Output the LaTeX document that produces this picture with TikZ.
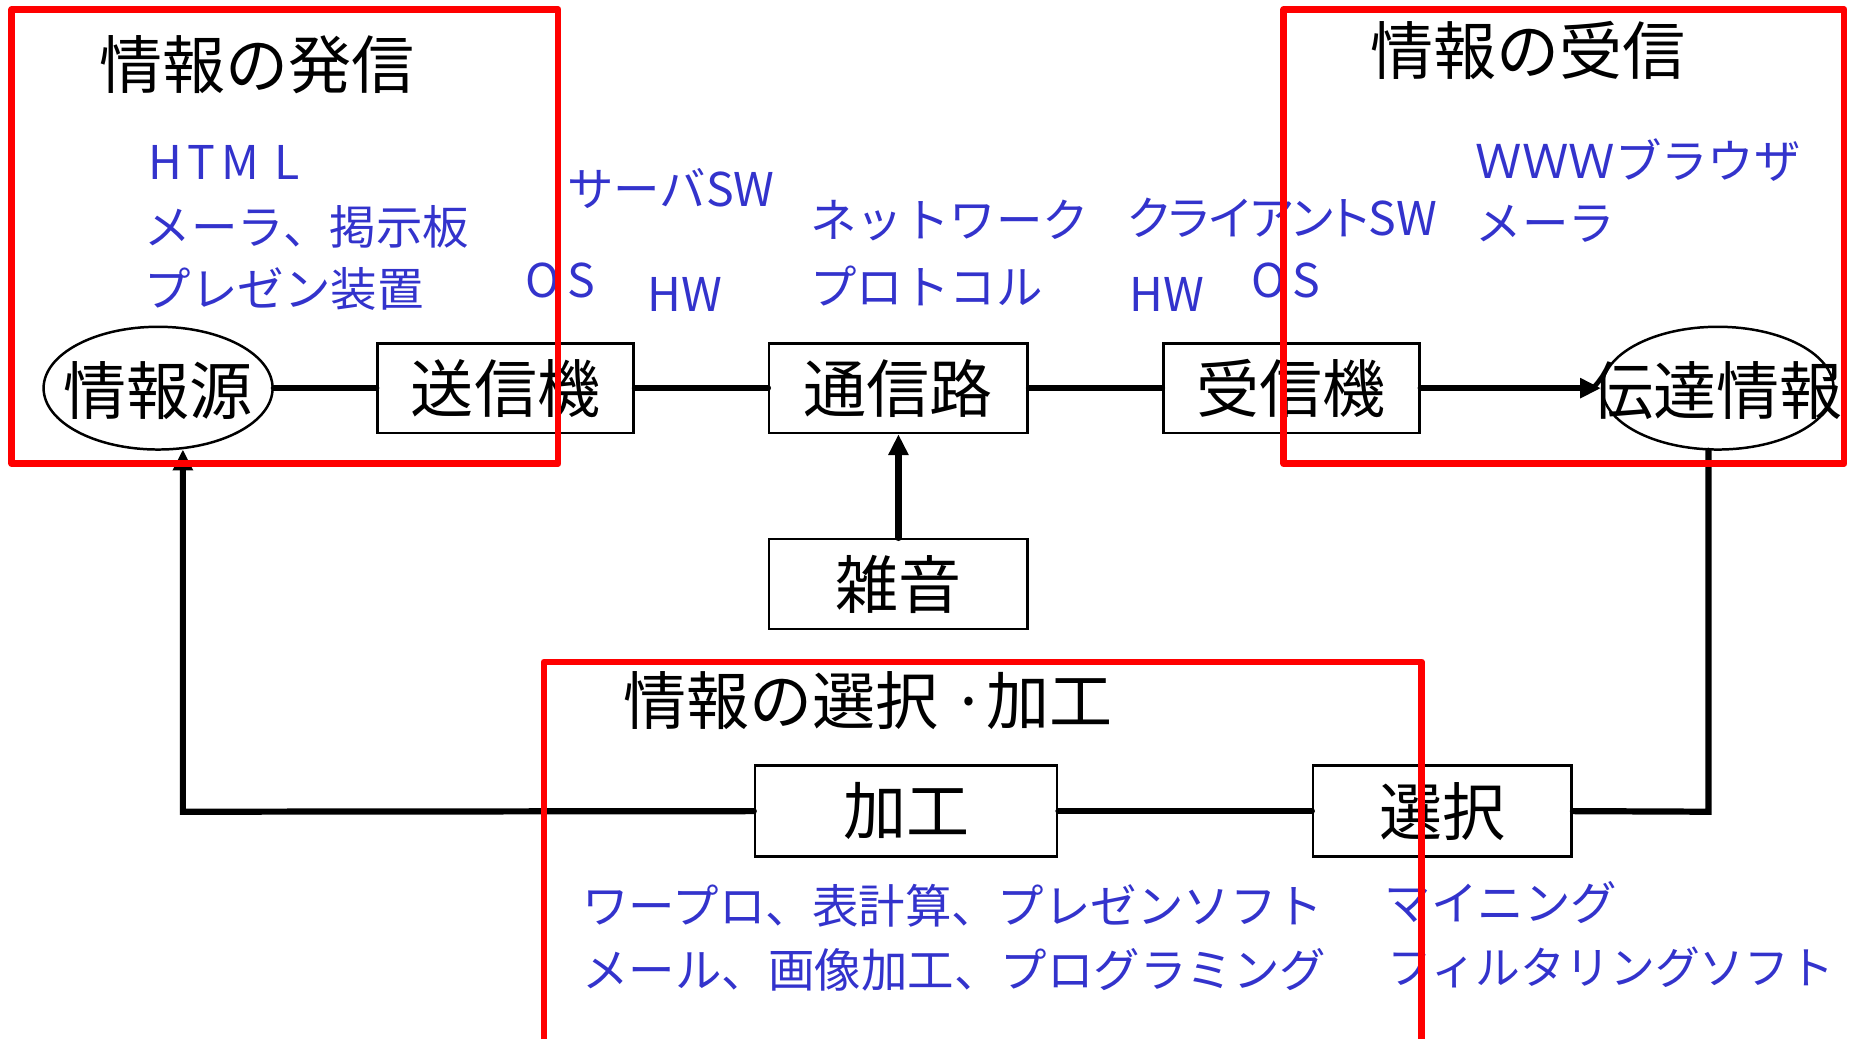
\documentclass[tikz,border=0pt]{standalone}
\usepackage{fontspec}
\setmainfont{Noto Sans CJK JP}
\newfontfamily\bluefont{Noto Sans CJK JP}
\newfontfamily\bluepalt[RawFeature=+palt]{Noto Sans CJK JP}
\newfontfamily\bluewide[LetterSpace=12]{Noto Sans CJK JP}
\usetikzlibrary{arrows.meta,calc,shapes.geometric}
\definecolor{myblue}{HTML}{3333CC}
\definecolor{myred}{HTML}{FF0000}
\tikzset{
  big/.style={font=\fontsize{15.2}{18}\selectfont},
  title/.style={big, inner sep=0pt},
  boxnode/.style={big, draw, line width=0.6pt, fill=white, inner sep=0pt},
  ellnode/.style={draw, line width=0.6pt, ellipse, inner sep=0pt},
  bluetxt/.style={font=\bluefont\fontsize{11.2}{14}\selectfont, text=myblue, anchor=west, inner sep=0pt},
  conn/.style={line width=1.5pt, line cap=round},
  tip/.style={-{Triangle[length=5pt,width=4.6pt]}},
  redframe/.style={draw=myred, line width=1.6pt, line join=round},
}
\begin{document}
\begin{tikzpicture}[x=0.01cm,y=-0.01cm]
\useasboundingbox (0,0) rectangle (1568,880);
% nodes
\node[ellnode, minimum width=1.94cm, minimum height=1.04cm] (src) at (134,329) {};
\node[big, inner sep=0pt] (srctxt) at (134,331) {情報源};
\node[boxnode, minimum width=2.17cm, minimum height=0.76cm] (tx) at (428.5,329) {送信機};
\node[boxnode, minimum width=2.19cm, minimum height=0.76cm] (ch) at (761.5,329) {通信路};
\node[boxnode, minimum width=2.17cm, minimum height=0.76cm] (rx) at (1094.5,329) {受信機};
\node[ellnode, minimum width=1.96cm, minimum height=1.04cm] (dst) at (1456,329) {};
\node[big, inner sep=0pt] (dsttxt) at (1455,331) {伝達情報};
\node[boxnode, minimum width=2.19cm, minimum height=0.76cm] (noise) at (761.5,495) {雑音};
\node[boxnode, minimum width=2.56cm, minimum height=0.77cm] (proc) at (768,687.5) {加工};
\node[boxnode, minimum width=2.19cm, minimum height=0.77cm] (sel) at (1222.5,687.5) {選択};
% connectors
\draw[conn] (src.east) -- (tx.west);
\draw[conn] (tx.east) -- (ch.west);
\draw[conn] (ch.east) -- (rx.west);
\draw[conn,tip] (rx.east) -- (dst.west);
\draw[conn,tip] (noise.north) -- (ch.south);
\coordinate (dstdown) at (1448,382);
\coordinate (rcorner) at (1448,688);
\draw[conn] (dstdown) -- (rcorner) -- (sel.east);
\draw[conn] (sel.west) -- (proc.east);
\coordinate (lcorner) at (155,688);
\coordinate (srcup) at (155,381);
\draw[conn,tip] (proc.west) -- (lcorner) -- (srcup);
% titles
\node[title] (t1) at (218,55) {情報の発信};
\node[title] (t2) at (1295,43) {情報の受信};
\node[title] (t3) at (736,594) {情報の選択\hspace{0.2em}·加工};
% blue labels
\node[bluetxt, font=\bluewide\fontsize{11.2}{14}\selectfont] (b1) at (125,138) {HTM L};
\node[bluetxt] (b2) at (122,192) {メーラ、掲示板};
\node[bluetxt] (b3) at (122,245) {プレゼン装置};
\node[bluetxt] (b4) at (480,160) {サーバSW};
\node[bluetxt] (b5) at (445,238) {O\hspace{0.15em}S};
\node[bluetxt] (b6) at (548,250) {HW};
\node[bluetxt] (b7) at (686,187) {ネットワーク};
\node[bluetxt] (b8) at (686,242) {プロトコル};
\node[bluetxt, font=\bluepalt\fontsize{11.2}{14}\selectfont] (b9) at (955,185) {クライアントSW};
\node[bluetxt] (b10) at (957,250) {HW};
\node[bluetxt] (b11) at (1060,238) {O\hspace{0.15em}S};
\node[bluetxt] (b12) at (1250,136) {ＷＷＷブラウザ};
\node[bluetxt] (b13) at (1250,190) {メーラ};
\node[bluetxt] (b14) at (493,768) {ワープロ、表計算、プレゼンソフト};
\node[bluetxt] (b15) at (493,822) {メール、画像加工、プログラミング};
\node[bluetxt] (b16) at (1173,765) {マイニング};
\node[bluetxt, font=\bluefont\fontsize{10.8}{14}\selectfont] (b17) at (1175,820) {フィルタリングソフト};
% red frames
\draw[redframe] (10,8) rectangle (473,393);
\draw[redframe] (1088,8) rectangle (1563,393);
\draw[redframe] (461,890) -- (461,561) -- (1205,561) -- (1205,890);
\end{tikzpicture}
\end{document}
